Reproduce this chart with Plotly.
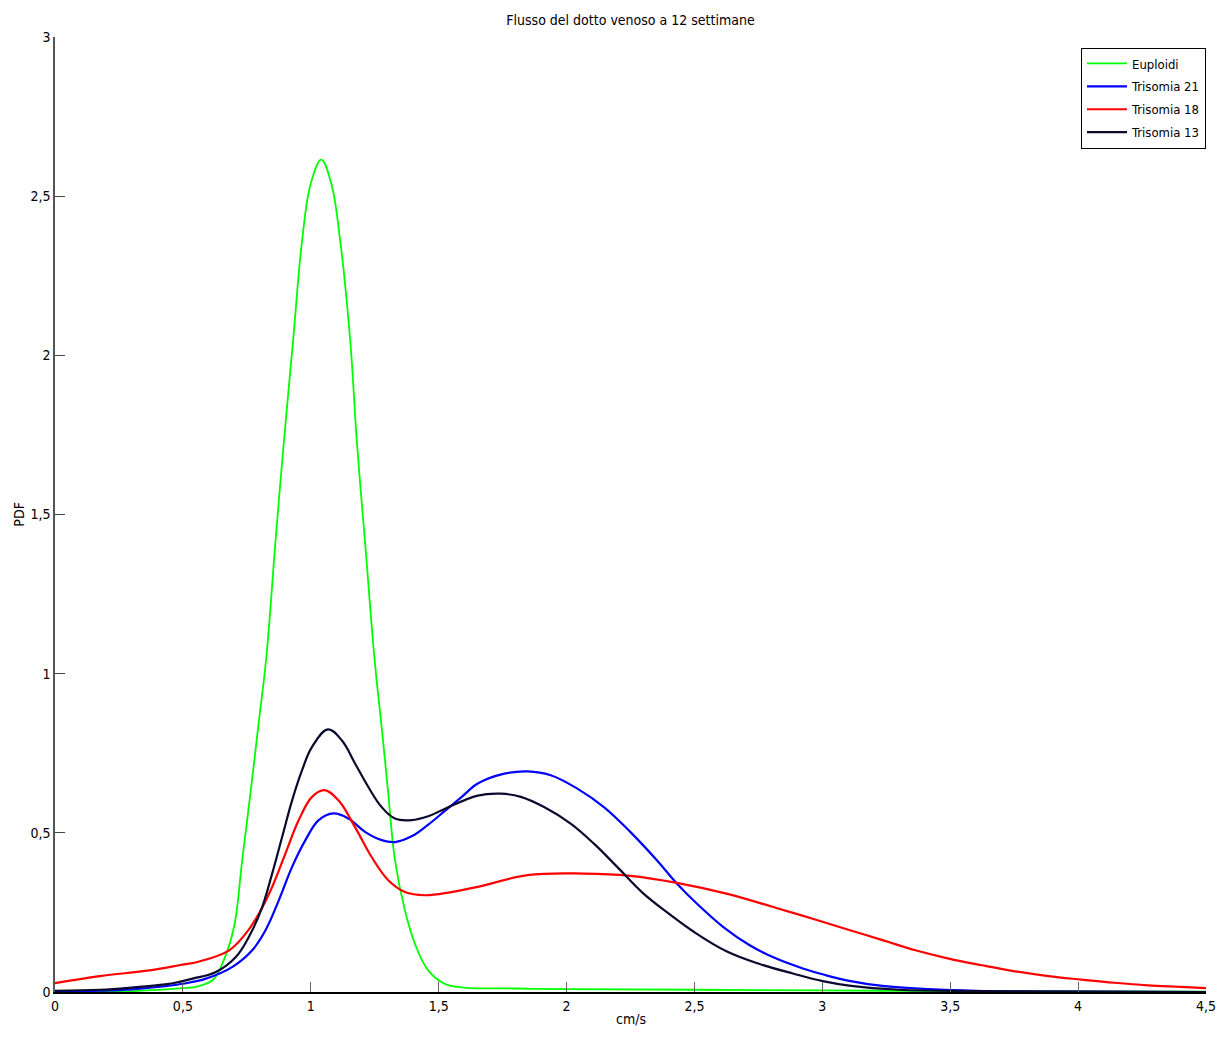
import plotly.graph_objects as go

# ---- data ----
series_names = ["Euploidi", "Trisomia 21", "Trisomia 18", "Trisomia 13"]
series_colors = ["#00ff00", "#0000ff", "#ff0000", "#0a0a2e"]

x_eu = [0, 0.30, 0.43, 0.50, 0.56, 0.62, 0.66, 0.70, 0.732, 0.765, 0.797, 0.826, 0.862, 0.895,
        0.931, 0.966, 1.0, 1.041, 1.08, 1.115, 1.154, 1.18, 1.212, 1.25, 1.277, 1.303, 1.329,
        1.368, 1.407, 1.459, 1.523, 1.60, 1.80, 2.0, 2.5, 3.0, 3.5, 4.0, 4.5]
y_eu = [0.0, 0.003, 0.008, 0.012, 0.018, 0.04, 0.10, 0.205, 0.415, 0.63, 0.85, 1.05, 1.415,
        1.73, 2.048, 2.36, 2.54, 2.615, 2.54, 2.36, 2.048, 1.73, 1.415, 1.04, 0.833, 0.623,
        0.415, 0.257, 0.152, 0.068, 0.026, 0.014, 0.011, 0.009, 0.007, 0.005, 0.003, 0.002, 0.001]

x_t21 = [0, 0.175, 0.30, 0.43, 0.50, 0.59, 0.694, 0.771, 0.823, 0.875, 0.927, 0.979, 1.031,
         1.089, 1.147, 1.212, 1.277, 1.329, 1.394, 1.458, 1.523, 1.589, 1.653, 1.757, 1.847,
         1.938, 2.042, 2.146, 2.249, 2.353, 2.431, 2.509, 2.613, 2.716, 2.820, 2.924, 3.008,
         3.105, 3.235, 3.416, 3.6, 4.0, 4.5]
y_t21 = [0.002, 0.004, 0.008, 0.018, 0.026, 0.042, 0.079, 0.131, 0.194, 0.288, 0.393, 0.477,
         0.540, 0.561, 0.545, 0.503, 0.477, 0.471, 0.489, 0.525, 0.568, 0.612, 0.655, 0.686,
         0.693, 0.681, 0.639, 0.581, 0.503, 0.414, 0.341, 0.278, 0.204, 0.147, 0.105, 0.074,
         0.054, 0.035, 0.019, 0.009, 0.004, 0.001, 0.0]

x_t18 = [0, 0.175, 0.37, 0.486, 0.564, 0.681, 0.746, 0.797, 0.849, 0.901, 0.953, 1.005, 1.054,
         1.108, 1.173, 1.238, 1.303, 1.368, 1.446, 1.549, 1.653, 1.847, 2.068, 2.249, 2.431,
         2.625, 2.820, 2.975, 3.105, 3.235, 3.364, 3.494, 3.624, 3.753, 3.883, 4.013, 4.142,
         4.272, 4.402, 4.5]
y_t18 = [0.028, 0.050, 0.068, 0.084, 0.096, 0.131, 0.184, 0.246, 0.330, 0.435, 0.540, 0.613,
         0.634, 0.602, 0.518, 0.424, 0.351, 0.314, 0.304, 0.314, 0.330, 0.367, 0.372, 0.365,
         0.343, 0.309, 0.264, 0.227, 0.195, 0.163, 0.131, 0.105, 0.084, 0.065, 0.050, 0.039,
         0.029, 0.021, 0.016, 0.012]

x_t13 = [0, 0.175, 0.30, 0.43, 0.486, 0.538, 0.629, 0.707, 0.765, 0.810, 0.849, 0.888, 0.927,
         0.966, 1.005, 1.067, 1.121, 1.173, 1.225, 1.277, 1.329, 1.394, 1.459, 1.523, 1.653,
         1.744, 1.821, 1.912, 2.016, 2.107, 2.198, 2.301, 2.405, 2.496, 2.625, 2.755, 2.885,
         3.002, 3.105, 3.30, 3.6, 4.0, 4.5]
y_t13 = [0.004, 0.007, 0.014, 0.024, 0.032, 0.042, 0.063, 0.110, 0.184, 0.267, 0.372, 0.487,
         0.602, 0.697, 0.770, 0.825, 0.791, 0.718, 0.644, 0.581, 0.545, 0.540, 0.552, 0.575,
         0.617, 0.623, 0.613, 0.581, 0.529, 0.466, 0.393, 0.309, 0.243, 0.190, 0.128, 0.088,
         0.058, 0.034, 0.020, 0.007, 0.003, 0.001, 0.0]

x_tickvals = [0, 0.5, 1, 1.5, 2, 2.5, 3, 3.5, 4, 4.5]
x_ticktext = ["0", "0,5", "1", "1,5", "2", "2,5", "3", "3,5", "4", "4,5"]
y_tickvals = [0, 0.5, 1, 1.5, 2, 2.5, 3]
y_ticktext = ["0", "0,5", "1", "1,5", "2", "2,5", "3"]

title_text = "Flusso del dotto venoso a 12 settimane"
x_label = "cm/s"
y_label = "PDF"

FONT = "DejaVu Sans Condensed, Liberation Sans Narrow, Arial Narrow, sans-serif"

# page has an 8px body margin: keep the figure inside the window (page x 8..1216, y 8..1029)
W, H = 1208, 1021

fig = go.Figure()
all_x = [x_eu, x_t21, x_t18, x_t13]
all_y = [y_eu, y_t21, y_t18, y_t13]
widths = [1.8, 2.2, 2.2, 2.2]
for i, (name, col, xs, ys) in enumerate(zip(series_names, series_colors, all_x, all_y)):
    fig.add_trace(go.Scatter(
        x=xs, y=ys, mode="lines", name=name,
        line=dict(color=col, width=widths[i], shape="spline", smoothing=1.1),
        legendgroup=f"g{i}",
    ))

fig.update_layout(
    width=W, height=H,
    margin=dict(l=47, r=10, t=29, b=37),
    paper_bgcolor="white", plot_bgcolor="white",
    font=dict(family=FONT, size=14, color="black"),
    title=dict(text=title_text, x=0.5, xref="paper", y=1 - 12 / H, yref="container",
               xanchor="center", yanchor="middle", font=dict(family=FONT, size=14)),
    showlegend=True,
    legend=dict(x=1.0, y=0.989, xanchor="right", yanchor="top",
                bgcolor="white", bordercolor="black", borderwidth=1,
                font=dict(family=FONT, size=13), tracegroupgap=3,
                itemwidth=40),
    xaxis=dict(range=[0, 4.5], tickvals=x_tickvals, ticktext=x_ticktext,
               ticks="inside", ticklen=10, tickcolor="#666666", tickwidth=1,
               showline=True, linecolor="black", linewidth=2,
               showgrid=False, zeroline=False, tickfont=dict(size=14),
               ticklabeloverflow="allow", automargin=False),
    yaxis=dict(range=[0, 3], tickvals=y_tickvals, ticktext=y_ticktext,
               ticks="inside", ticklen=10, tickcolor="#444444", tickwidth=1,
               showline=True, linecolor="#555555", linewidth=1.5,
               showgrid=False, zeroline=False, tickfont=dict(size=14),
               automargin=False),
    annotations=[
        dict(text=x_label, xref="paper", yref="paper", x=0.5, y=-0.0385,
             xanchor="center", yanchor="bottom", showarrow=False,
             font=dict(family=FONT, size=14)),
        dict(text=y_label, xref="paper", yref="paper", x=-0.032, y=0.5,
             xanchor="center", yanchor="middle", showarrow=False, textangle=-90,
             font=dict(family=FONT, size=14)),
    ],
)

fig.write_html("out.html")
